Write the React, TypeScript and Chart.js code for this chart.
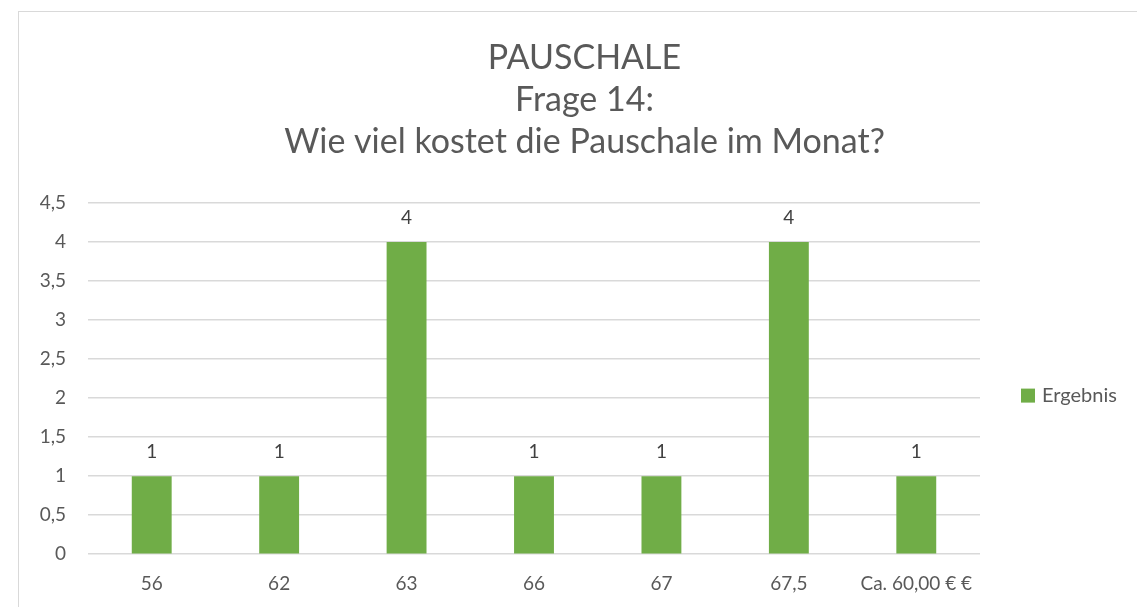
import React, { useEffect, useRef } from "react";
import { Chart, registerables } from "chart.js";

Chart.register(...registerables);

const categories = ["56", "62", "63", "66", "67", "67,5", "Ca. 60,00 € €"];
const values = [1, 1, 4, 1, 1, 4, 1];
const seriesName = "Ergebnis";
const titleLines = ["PAUSCHALE", "Frage 14:", "Wie viel kostet die Pauschale im Monat?"];
const yTickLabels = ["0", "0,5", "1", "1,5", "2", "2,5", "3", "3,5", "4", "4,5"];

const FONT = "Lato, 'Open Sans', sans-serif";
const TEXT = "#595959";
const GREEN = "#70AD47";

const titlePlugin = {
  id: "centeredTitle",
  afterDraw(chart: any) {
    const ctx = chart.ctx;
    ctx.save();
    ctx.font = `34px ${FONT}`;
    ctx.fillStyle = TEXT;
    ctx.textAlign = "center";
    ctx.textBaseline = "middle";
    titleLines.forEach((line, i) => {
      ctx.fillText(line, chart.width / 2, 46 + i * 42);
    });
    ctx.restore();
  },
};

const labelsPlugin = {
  id: "valueLabels",
  afterDatasetsDraw(chart: any) {
    const ctx = chart.ctx;
    const meta = chart.getDatasetMeta(0);
    ctx.save();
    ctx.font = `19px ${FONT}`;
    ctx.fillStyle = "#404040";
    ctx.textAlign = "center";
    ctx.textBaseline = "middle";
    meta.data.forEach((bar: any, i: number) => {
      ctx.fillText(String(values[i]), bar.x, bar.y - 24);
    });
    ctx.restore();
  },
};

const legendPlugin = {
  id: "sideLegend",
  afterDraw(chart: any) {
    const ctx = chart.ctx;
    const a = chart.chartArea;
    const x = a.right + 41;
    const y = (a.top + a.bottom) / 2 + 17;
    ctx.save();
    ctx.fillStyle = GREEN;
    ctx.fillRect(x, y - 7, 14, 14);
    ctx.font = `20px ${FONT}`;
    ctx.fillStyle = TEXT;
    ctx.textAlign = "left";
    ctx.textBaseline = "middle";
    ctx.fillText(seriesName, x + 21, y);
    ctx.restore();
  },
};

export default function App() {
  const ref = useRef<HTMLCanvasElement | null>(null);
  useEffect(() => {
    document.body.style.overflow = "hidden";
    if (!ref.current) return;
    const chart = new Chart(ref.current, {
      type: "bar",
      data: {
        labels: categories,
        datasets: [
          {
            label: seriesName,
            data: values,
            backgroundColor: GREEN,
            barPercentage: 0.313,
            categoryPercentage: 1,
          },
        ],
      },
      options: {
        animation: false,
        responsive: false,
        maintainAspectRatio: false,
        layout: { padding: { left: 0, right: 170, top: 191, bottom: 0 } },
        plugins: {
          legend: { display: false },
          tooltip: { enabled: false },
          title: { display: false },
        },
        scales: {
          x: {
            grid: { display: false, drawTicks: false },
            border: { display: false },
            ticks: { color: TEXT, font: { family: FONT, size: 19 }, padding: 18, maxRotation: 0 },
          },
          y: {
            min: 0,
            max: 4.5,
            afterFit: (s: any) => {
              s.width = 69;
            },
            grid: { color: "#d9d9d9", lineWidth: 1.5, drawTicks: false },
            border: { display: false },
            ticks: {
              stepSize: 0.5,
              padding: 22,
              color: TEXT,
              font: { family: FONT, size: 19 },
              callback: (_v: any, i: number) => yTickLabels[i],
            },
          },
        },
      },
      plugins: [titlePlugin, labelsPlugin, legendPlugin],
    });
    return () => chart.destroy();
  }, []);

  return (
    <div style={{ position: "fixed", left: 0, top: 0, width: 1137, height: 607, overflow: "hidden", background: "#fff" }}>
      <div
        style={{
          position: "absolute",
          left: 18,
          top: 11,
          width: 1134,
          height: 620,
          border: "1.5px solid #d9d9d9",
          boxSizing: "border-box",
          background: "#fff",
        }}
      >
        <canvas ref={ref} width={1131} height={601} style={{ display: "block" }} />
      </div>
    </div>
  );
}
